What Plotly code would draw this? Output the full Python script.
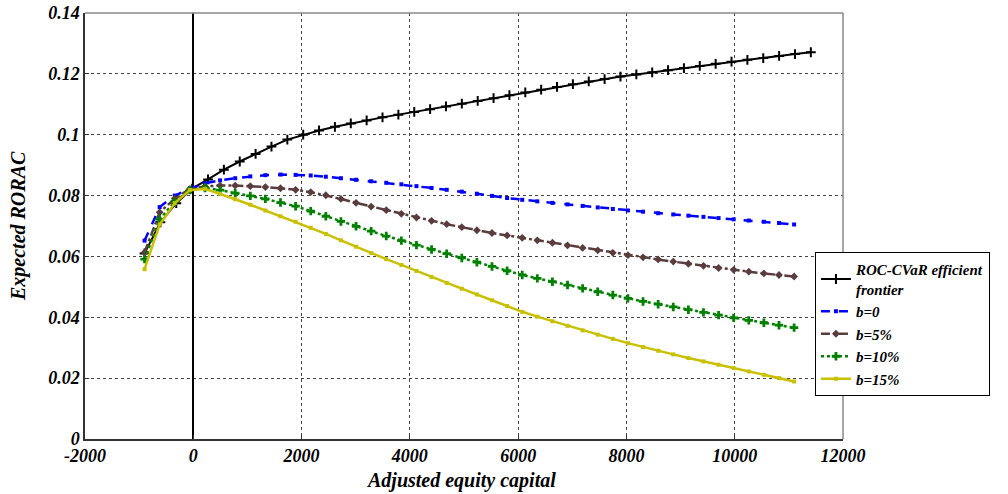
import plotly.graph_objects as go

# ---- data ----
x_frontier = [-900, -607, -314, -21, 272, 565, 858, 1151, 1444, 1737, 2030, 2323, 2616, 2909,
              3202, 3495, 3788, 4081, 4374, 4667, 4960, 5253, 5546, 5839, 6132, 6425, 6718,
              7011, 7304, 7597, 7890, 8183, 8476, 8769, 9062, 9355, 9648, 9941, 10234, 10527,
              10820, 11113, 11406]
y_frontier = [0.0610, 0.0712, 0.0775, 0.0823, 0.0853, 0.0885, 0.0912, 0.0937, 0.0961, 0.0984,
              0.1000, 0.1014, 0.1026, 0.1037, 0.1047, 0.1057, 0.1066, 0.1075, 0.1084, 0.1093,
              0.1102, 0.1111, 0.1120, 0.1130, 0.1139, 0.1148, 0.1157, 0.1166, 0.1175, 0.1183,
              0.1191, 0.1198, 0.1205, 0.1212, 0.1219, 0.1226, 0.1233, 0.1240, 0.1246, 0.1252,
              0.1259, 0.1265, 0.1271]

x_b = [-900, -621, -342, -63, 216, 495, 774, 1053, 1332, 1611, 1890, 2169, 2448, 2727, 3006,
       3285, 3564, 3843, 4122, 4401, 4680, 4959, 5238, 5517, 5796, 6075, 6354, 6633, 6912,
       7191, 7470, 7749, 8028, 8307, 8586, 8865, 9144, 9423, 9702, 9981, 10260, 10539, 10818,
       11097]
y_b0 = [0.0652, 0.0762, 0.0800, 0.0823, 0.0840, 0.0850, 0.0857, 0.0863, 0.0867, 0.0869, 0.0868,
        0.0866, 0.0862, 0.0857, 0.0852, 0.0847, 0.0842, 0.0837, 0.0831, 0.0825, 0.0819, 0.0813,
        0.0806, 0.0799, 0.0792, 0.0786, 0.0781, 0.0776, 0.0771, 0.0766, 0.0761, 0.0756, 0.0751,
        0.0747, 0.0742, 0.0738, 0.0734, 0.0730, 0.0726, 0.0722, 0.0718, 0.0714, 0.0710, 0.0705]
y_b5 = [0.0613, 0.0745, 0.0790, 0.0822, 0.0830, 0.0833, 0.0833, 0.0831, 0.0828, 0.0824, 0.0819,
        0.0811, 0.0801, 0.0789, 0.0776, 0.0764, 0.0752, 0.0740, 0.0728, 0.0717, 0.0706, 0.0696,
        0.0686, 0.0677, 0.0669, 0.0661, 0.0653, 0.0645, 0.0636, 0.0628, 0.0620, 0.0612, 0.0604,
        0.0597, 0.0590, 0.0583, 0.0576, 0.0569, 0.0562, 0.0556, 0.0550, 0.0544, 0.0539, 0.0534]
y_b10 = [0.0591, 0.0722, 0.0780, 0.0818, 0.0825, 0.0818, 0.0808, 0.0799, 0.0789, 0.0777, 0.0765,
         0.0749, 0.0732, 0.0715, 0.0699, 0.0683, 0.0667, 0.0652, 0.0637, 0.0623, 0.0609, 0.0595,
         0.0581, 0.0567, 0.0553, 0.0539, 0.0528, 0.0517, 0.0506, 0.0495, 0.0484, 0.0473, 0.0462,
         0.0452, 0.0443, 0.0434, 0.0425, 0.0416, 0.0407, 0.0398, 0.0390, 0.0382, 0.0374, 0.0366]
y_b15 = [0.0558, 0.0705, 0.0775, 0.0818, 0.0822, 0.0806, 0.0788, 0.0770, 0.0751, 0.0732, 0.0714,
         0.0694, 0.0674, 0.0653, 0.0632, 0.0611, 0.0591, 0.0572, 0.0552, 0.0532, 0.0513, 0.0494,
         0.0475, 0.0456, 0.0437, 0.0418, 0.0402, 0.0387, 0.0372, 0.0357, 0.0343, 0.0329, 0.0315,
         0.0302, 0.0290, 0.0278, 0.0266, 0.0255, 0.0244, 0.0233, 0.0222, 0.0211, 0.0200, 0.0189]

x_ticks = [-2000, 0, 2000, 4000, 6000, 8000, 10000, 12000]
x_ticktext = ["-2000", "0", "2000", "4000", "6000", "8000", "10000", "12000"]
y_ticks = [0, 0.02, 0.04, 0.06, 0.08, 0.10, 0.12, 0.14]
y_ticktext = ["0", "0.02", "0.04", "0.06", "0.08", "0.1", "0.12", "0.14"]

x_title = "Adjusted equity capital"
y_title = "Expected RORAC"

FONT = "Liberation Serif"

fig = go.Figure()
fig.add_trace(go.Scatter(x=x_frontier, y=y_frontier, mode="lines+markers",
                         name="ROC-CVaR efficient<br>frontier",
                         line=dict(color="black", width=2),
                         marker=dict(symbol="cross-thin", size=7, line=dict(color="black", width=2))))
fig.add_trace(go.Scatter(x=x_b, y=y_b0, mode="lines+markers", name="b=0",
                         line=dict(color="#0000ff", width=2.5, dash="dash"),
                         marker=dict(symbol="square", size=4, color="#0000ff")))
fig.add_trace(go.Scatter(x=x_b, y=y_b5, mode="lines+markers", name="b=5%",
                         line=dict(color="#5a3c3c", width=2.5, dash="dashdot"),
                         marker=dict(symbol="diamond", size=6, color="#5a3c3c")))
fig.add_trace(go.Scatter(x=x_b, y=y_b10, mode="lines+markers", name="b=10%",
                         line=dict(color="#008000", width=2.5, dash="dot"),
                         marker=dict(symbol="cross", size=7, color="#008000")))
fig.add_trace(go.Scatter(x=x_b, y=y_b15, mode="lines+markers", name="b=15%",
                         line=dict(color="#c8c000", width=2.5),
                         marker=dict(symbol="square", size=4, color="#c8c000")))

tickfont = dict(family=FONT, size=18, color="black", weight="bold", style="italic")
titlefont = dict(family=FONT, size=20, color="black", weight="bold", style="italic")

fig.update_xaxes(range=[-2000, 12000], tickvals=x_ticks, ticktext=x_ticktext,
                 showgrid=True, gridcolor="#444444", griddash="dot", gridwidth=1,
                 zeroline=True, zerolinecolor="black", zerolinewidth=1.5,
                 showline=True, linecolor="#333333", linewidth=1.5,
                 ticks="inside", ticklen=4, tickcolor="#333333",
                 tickfont=tickfont, automargin=False, ticklabeloverflow="allow")
fig.update_yaxes(range=[0, 0.14], tickvals=y_ticks, ticktext=y_ticktext,
                 showgrid=True, gridcolor="#444444", griddash="dot", gridwidth=1,
                 zeroline=False,
                 showline=True, linecolor="#333333", linewidth=1.5,
                 ticks="inside", ticklen=4, tickcolor="#333333",
                 tickfont=tickfont, automargin=False, ticklabeloverflow="allow")

# axis titles
fig.add_annotation(text=x_title, xref="paper", yref="paper", x=0.496, y=0,
                   xanchor="center", yanchor="middle", yshift=-41, showarrow=False,
                   font=titlefont)
fig.add_annotation(text=y_title, xref="paper", yref="paper", x=0, y=0.5,
                   xanchor="center", yanchor="middle", xshift=-67, textangle=-90,
                   showarrow=False, font=titlefont)

# grey top/right frame like the original
fig.add_shape(type="line", xref="paper", yref="paper", x0=0, x1=1, y0=1, y1=1,
              line=dict(color="#888888", width=1.5))
fig.add_shape(type="line", xref="paper", yref="paper", x0=1, x1=1, y0=0, y1=1,
              line=dict(color="#888888", width=1.5))

fig.update_layout(
    width=1008, height=494,
    margin=dict(l=85, r=165, t=13, b=55, autoexpand=False),
    plot_bgcolor="white", paper_bgcolor="white",
    showlegend=True,
    legend=dict(x=0.963, y=0.439, xanchor="left", yanchor="top",
                bgcolor="white", bordercolor="black", borderwidth=1,
                font=dict(family=FONT, size=15, color="black", weight="bold", style="italic"),
                itemwidth=30, tracegroupgap=0),
)

fig.write_html("out.html", config={"displayModeBar": False},
               post_script="document.body.style.margin='0';document.body.style.overflow='hidden';")
